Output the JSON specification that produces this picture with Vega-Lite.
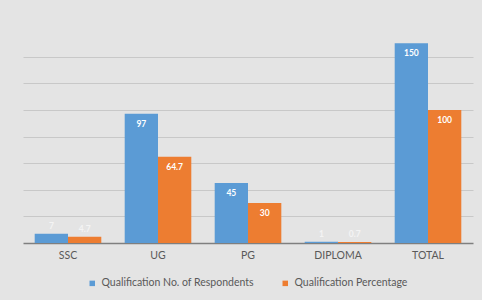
{
  "$schema": "https://vega.github.io/schema/vega-lite/v6.json",
  "width": 450,
  "height": 213,
  "autosize": "none",
  "padding": {"left": 23, "top": 30, "right": 9, "bottom": 57},
  "background": "#e4e4e4",
  "config": {
    "view": {"stroke": null},
    "font": "Lato"
  },
  "data": {
    "values": [
      {"qual": "SSC", "series": "Qualification No. of Respondents", "value": 7, "label": "7"},
      {"qual": "SSC", "series": "Qualification Percentage", "value": 4.7, "label": "4.7"},
      {"qual": "UG", "series": "Qualification No. of Respondents", "value": 97, "label": "97"},
      {"qual": "UG", "series": "Qualification Percentage", "value": 64.7, "label": "64.7"},
      {"qual": "PG", "series": "Qualification No. of Respondents", "value": 45, "label": "45"},
      {"qual": "PG", "series": "Qualification Percentage", "value": 30, "label": "30"},
      {"qual": "DIPLOMA", "series": "Qualification No. of Respondents", "value": 1, "label": "1"},
      {"qual": "DIPLOMA", "series": "Qualification Percentage", "value": 0.7, "label": "0.7"},
      {"qual": "TOTAL", "series": "Qualification No. of Respondents", "value": 150, "label": "150"},
      {"qual": "TOTAL", "series": "Qualification Percentage", "value": 100, "label": "100"}
    ]
  },
  "encoding": {
    "x": {
      "field": "qual", "type": "nominal", "sort": null,
      "scale": {"paddingInner": 0.26, "paddingOuter": 0.13},
      "axis": {
        "title": null, "labelAngle": 0, "ticks": false, "domainColor": "#7f7f7f", "domainWidth": 1.5,
        "labelColor": "#595959", "labelFontSize": 10.5, "labelPadding": 7
      }
    },
    "xOffset": {"field": "series", "type": "nominal", "sort": null},
    "y": {
      "field": "value", "type": "quantitative",
      "scale": {"domain": [0, 160], "nice": false},
      "axis": {
        "title": null, "labels": false, "ticks": false, "domain": false,
        "values": [20, 40, 60, 80, 100, 120, 140],
        "gridColor": "#c8c8c8", "gridWidth": 1
      }
    }
  },
  "layer": [
    {
      "mark": {"type": "bar"},
      "encoding": {
        "color": {
          "field": "series", "type": "nominal", "sort": null,
          "scale": {"domain": ["Qualification No. of Respondents", "Qualification Percentage"], "range": ["#5b9bd5", "#ed7d31"]},
          "legend": {
            "title": null, "orient": "none", "direction": "horizontal",
            "legendX": 62, "legendY": 246,
            "symbolType": "square", "symbolSize": 30, "labelFontSize": 10.5, "labelColor": "#595959",
            "columnPadding": 26, "padding": 2
          }
        }
      }
    },
    {
      "transform": [{"filter": "datum.value >= 10"}],
      "mark": {"type": "text", "baseline": "top", "dy": 6, "color": "white", "fontSize": 8.5, "fontWeight": "bold"},
      "encoding": {"text": {"field": "label"}}
    },
    {
      "transform": [{"filter": "datum.value < 10"}],
      "mark": {"type": "text", "baseline": "bottom", "dy": -3, "color": "#f4f4f4", "fontSize": 8.5, "fontWeight": "bold"},
      "encoding": {"text": {"field": "label"}}
    }
  ]
}
